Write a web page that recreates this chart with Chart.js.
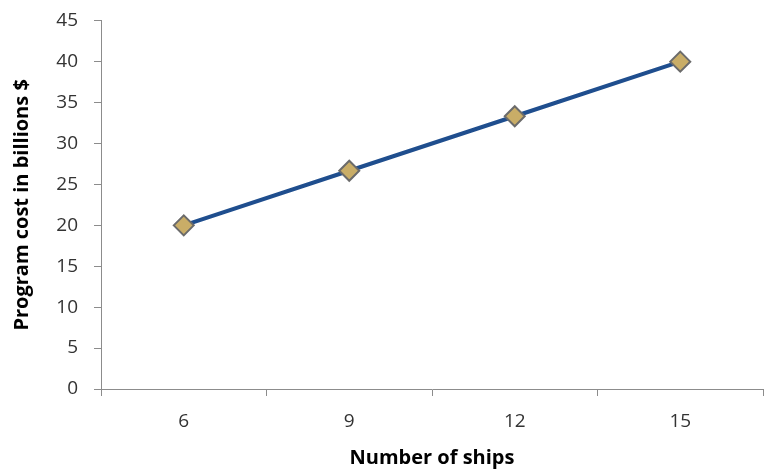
<!DOCTYPE html>
<html><head><meta charset="utf-8">
<script src="https://cdn.jsdelivr.net/npm/chart.js@4"></script>
<style>html,body{margin:0;padding:0;background:#fff;overflow:hidden}#w{width:764px;height:470px}</style>
</head><body><div id="w"><canvas id="c" width="764" height="470"></canvas></div>
<script>
const categories = ["6", "9", "12", "15"];
const programCost = [20, 26.67, 33.33, 40];
const yTicks = [0, 5, 10, 15, 20, 25, 30, 35, 40, 45];

const axisColor = '#8c8c8c';
new Chart(document.getElementById('c'), {
  type: 'line',
  data: {
    labels: categories,
    datasets: [{
      data: programCost,
      borderColor: '#1f4e8e',
      borderWidth: 4,
      pointStyle: 'rectRot',
      pointRadius: 10,
      pointHoverRadius: 10,
      pointBackgroundColor: '#c9ad67',
      pointBorderColor: '#6b6b6b',
      pointBorderWidth: 2,
      tension: 0
    }]
  },
  options: {
    responsive: false,
    animation: false,
    events: [],
    layout: { autoPadding: false, padding: { top: 19, right: 1, left: 0, bottom: 0 } },
    plugins: { legend: { display: false }, tooltip: { enabled: false } },
    scales: {
      x: {
        offset: true,
        grid: { display: true, offset: true, drawOnChartArea: false, color: axisColor, tickLength: 7, tickColor: axisColor },
        border: { color: axisColor, width: 1 },
        ticks: { color: '#333', font: { family: 'Open Sans', size: 19 }, padding: 14, maxRotation: 0 },
        title: { display: true, text: 'Number of ships', color: '#000', font: { family: 'Open Sans', size: 20, weight: 'bold' }, padding: { top: 6, bottom: 0 } },
        afterFit: s => { s.height = 81; }
      },
      y: {
        min: 0, max: 45,
        afterBuildTicks: s => { s.ticks = yTicks.map(v => ({ value: v })); },
        grid: { display: true, drawOnChartArea: false, color: axisColor, tickLength: 7, tickColor: axisColor },
        border: { color: axisColor, width: 1 },
        ticks: { color: '#333', font: { family: 'Open Sans', size: 19, lineHeight: 0.5 }, padding: 16 },
        title: { display: true, text: 'Program cost in billions $', color: '#000', font: { family: 'Open Sans', size: 20, weight: 'bold' }, padding: { top: 10, bottom: 4 } },
        afterFit: s => { s.width = 101; }
      }
    }
  }
});
</script></body></html>
